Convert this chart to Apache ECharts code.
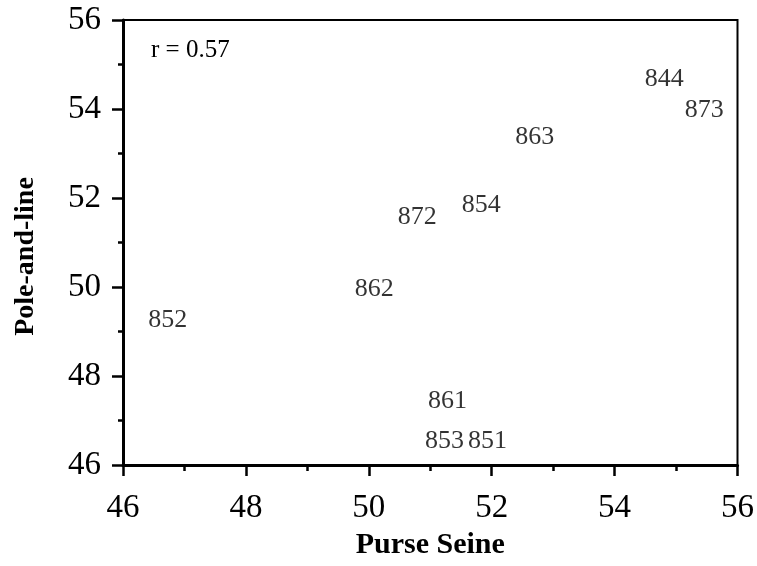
<!DOCTYPE html>
<html>
<head>
<meta charset="utf-8">
<script src="https://cdn.jsdelivr.net/npm/echarts@6/dist/echarts.min.js"></script>
<style>
  html, body { margin: 0; padding: 0; background: #fff; }
  #chart { width: 757px; height: 566px; }
</style>
</head>
<body>
<div id="chart"></div>
<script>
const labels = ['844', '873', '863', '854', '872', '862', '852', '861', '853', '851'];
const purseSeine = [54.81, 55.46, 52.70, 51.83, 50.79, 50.09, 46.73, 51.28, 51.23, 51.93];
const poleAndLine = [54.67, 53.98, 53.37, 51.84, 51.57, 49.96, 49.26, 47.44, 46.54, 46.54];
const xTicks = [46, 48, 50, 52, 54, 56];
const yTicks = [46, 48, 50, 52, 54, 56];
const corrText = 'r = 0.57';

const font = 'Liberation Serif, Times New Roman, serif';
const data = labels.map((l, i) => [purseSeine[i], poleAndLine[i], l]);

const chart = echarts.init(document.getElementById('chart'));
chart.setOption({
  backgroundColor: '#fff',
  animation: false,
  title: {
    text: corrText,
    left: 146,
    top: 33,
    textStyle: { fontFamily: font, fontSize: 25, fontWeight: 'normal', color: '#000' }
  },
  grid: {
    left: 123, right: 18, top: 20, bottom: 101,
    containLabel: false,
    show: true,
    borderColor: '#000',
    borderWidth: 2
  },
  xAxis: {
    type: 'value',
    min: xTicks[0], max: xTicks[xTicks.length - 1], interval: 2,
    name: 'Purse Seine',
    nameLocation: 'middle',
    nameGap: 45,
    nameTextStyle: { fontFamily: font, fontSize: 30, fontWeight: 'bold', color: '#000' },
    axisLine: { show: true, onZero: false, lineStyle: { color: '#000', width: 3 } },
    axisTick: { show: true, inside: false, length: 11, lineStyle: { color: '#000', width: 2.5 } },
    minorTick: { show: true, splitNumber: 2, length: 6, lineStyle: { color: '#000', width: 2.5 } },
    splitLine: { show: false },
    axisLabel: { fontFamily: font, fontSize: 33, color: '#000', margin: 27 }
  },
  yAxis: {
    type: 'value',
    min: yTicks[0], max: yTicks[yTicks.length - 1], interval: 2,
    name: 'Pole-and-line',
    nameLocation: 'middle',
    nameGap: 83,
    nameTextStyle: { fontFamily: font, fontSize: 28, fontWeight: 'bold', color: '#000', padding: [0, 28, 0, 0] },
    axisLine: { show: true, onZero: false, lineStyle: { color: '#000', width: 3 } },
    axisTick: { show: true, inside: false, length: 11, lineStyle: { color: '#000', width: 2.5 } },
    minorTick: { show: true, splitNumber: 2, length: 5, lineStyle: { color: '#000', width: 2.5 } },
    splitLine: { show: false },
    axisLabel: { fontFamily: font, fontSize: 33, color: '#000', margin: 22 }
  },
  series: [{
    type: 'scatter',
    data: data,
    symbol: 'circle',
    symbolSize: 1,
    itemStyle: { color: 'rgba(0,0,0,0)' },
    label: {
      show: true,
      position: 'inside',
      formatter: p => p.data[2],
      fontFamily: font,
      fontSize: 26,
      color: '#000'
    }
  }]
});
</script>
</body>
</html>
